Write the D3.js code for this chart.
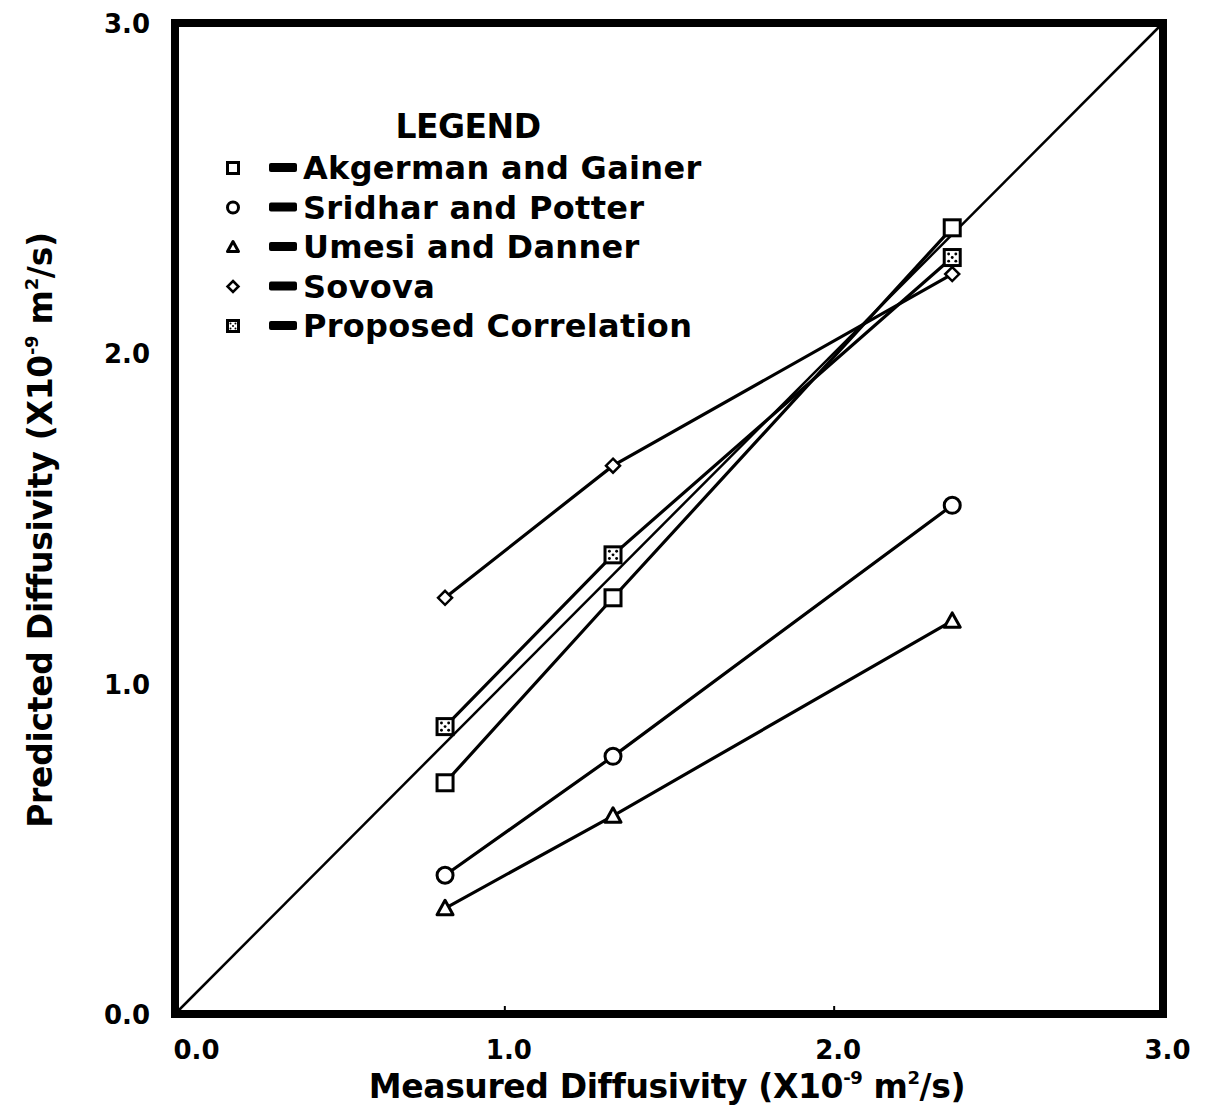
<!DOCTYPE html>
<html>
<head>
<meta charset="utf-8">
<script src="https://cdnjs.cloudflare.com/ajax/libs/d3/7.8.5/d3.min.js"></script>
<style>
  body { margin: 0; background: #fff; }
  text { font-family: "DejaVu Sans", sans-serif; font-weight: bold; fill: #000; }
</style>
</head>
<body>
<script>
// measured diffusivity at the three conditions
var measured = [0.82, 1.33, 2.36];

var akgerman = [0.70, 1.26, 2.38];
var sridhar = [0.42, 0.78, 1.54];
var umesi = [0.32, 0.60, 1.19];
var sovova = [1.26, 1.66, 2.24];
var proposed = [0.87, 1.39, 2.29];

var seriesNames = ["Akgerman and Gainer", "Sridhar and Potter", "Umesi and Danner", "Sovova", "Proposed Correlation"];
var seriesSymbols = ["square", "circle", "triangle", "diamond", "dotsquare"];
var tickValues = [0, 1, 2, 3];

var width = 1207, height = 1118;
var margins = { top: 23, bottom: 104, left: 175, right: 44 };

var svg = d3.select("body").append("svg")
  .attr("width", width)
  .attr("height", height);

var x = d3.scaleLinear().domain([0, 3]).range([margins.left, width - margins.right]);
var y = d3.scaleLinear().domain([0, 3]).range([height - margins.bottom, margins.top]);

// axes: labels only, the frame is drawn as a heavy box
var xAxis = svg.append("g")
  .attr("transform", "translate(0," + y(0) + ")")
  .call(d3.axisBottom(x).tickValues(tickValues).tickFormat(d3.format(".1f")).tickSize(-8).tickPadding(45));
xAxis.select(".domain").remove();
xAxis.selectAll("text").attr("font-size", 26).attr("dx", 4).attr("dy", 0);
xAxis.selectAll("text").filter(d => d === 0).attr("text-anchor", "start").attr("dx", -2);
xAxis.selectAll("line").attr("stroke-width", 2);

var yAxis = svg.append("g")
  .attr("transform", "translate(" + x(0) + ",0)")
  .call(d3.axisLeft(y).tickValues(tickValues).tickFormat(d3.format(".1f")).tickSize(0).tickPadding(25));
yAxis.select(".domain").remove();
yAxis.selectAll("text").attr("font-size", 26).attr("dy", "0.36em");

svg.append("rect")
  .attr("x", x(0)).attr("y", y(3))
  .attr("width", x(3) - x(0)).attr("height", y(0) - y(3))
  .attr("fill", "none").attr("stroke", "#000").attr("stroke-width", 8);

// 1:1 line
svg.append("line")
  .attr("x1", x(0)).attr("y1", y(0))
  .attr("x2", x(3)).attr("y2", y(3))
  .attr("stroke", "#000").attr("stroke-width", 2.5);

var allSeries = [akgerman, sridhar, umesi, sovova, proposed];

var line = d3.line()
  .x((d, i) => x(measured[i]))
  .y(d => y(d));

allSeries.forEach(function (s) {
  svg.append("path")
    .datum(s)
    .attr("d", line)
    .attr("fill", "none")
    .attr("stroke", "#000")
    .attr("stroke-width", 3.2);
});

function drawSymbol(g, kind, size) {
  var h = size / 2;
  if (kind === "square" || kind === "dotsquare") {
    g.append("rect").attr("x", -h).attr("y", -h).attr("width", size).attr("height", size)
      .attr("fill", "#fff").attr("stroke", "#000").attr("stroke-width", 3);
    if (kind === "dotsquare") {
      [[-1, -1], [1, -1], [-1, 1], [1, 1], [0, 0]].forEach(function (p) {
        g.append("circle").attr("cx", p[0] * h * 0.45).attr("cy", p[1] * h * 0.45)
          .attr("r", size * 0.09).attr("fill", "#000");
      });
    }
  } else if (kind === "circle") {
    g.append("circle").attr("r", h).attr("fill", "#fff").attr("stroke", "#000").attr("stroke-width", 3);
  } else if (kind === "triangle") {
    g.append("path").attr("d", "M0," + (-h) + "L" + h + "," + (h * 0.8) + "L" + (-h) + "," + (h * 0.8) + "Z")
      .attr("fill", "#fff").attr("stroke", "#000").attr("stroke-width", 3).attr("stroke-linejoin", "round");
  } else if (kind === "diamond") {
    g.append("path").attr("d", "M0," + (-h) + "L" + h + ",0L0," + h + "L" + (-h) + ",0Z")
      .attr("fill", "#fff").attr("stroke", "#000").attr("stroke-width", 2.5);
  }
}

allSeries.forEach(function (s, k) {
  var sym = svg.append("g").selectAll("g")
    .data(s)
    .enter().append("g")
    .attr("transform", (d, i) => "translate(" + x(measured[i]) + "," + y(d) + ")");
  sym.each(function () {
    drawSymbol(d3.select(this), seriesSymbols[k], seriesSymbols[k] === "diamond" ? 14 : 16);
  });
});

// legend
var legend = svg.append("g").attr("transform", "translate(233,0)");
legend.append("text")
  .attr("x", 235).attr("y", 138)
  .attr("text-anchor", "middle")
  .attr("font-size", 33)
  .attr("letter-spacing", -0.5)
  .text("LEGEND");

seriesNames.forEach(function (name, k) {
  var cy = 168 + k * 39.5;
  var row = legend.append("g").attr("transform", "translate(0," + cy + ")");
  drawSymbol(row.append("g"), seriesSymbols[k], 11);
  row.append("rect").attr("x", 36).attr("y", -5).attr("width", 28).attr("height", 9).attr("rx", 2).attr("fill", "#000");
  row.append("text")
    .attr("x", 70).attr("y", 11)
    .attr("font-size", 32)
    .attr("letter-spacing", 0.3)
    .text(name);
});

// axis titles
var xt = svg.append("text")
  .attr("x", (x(0) + x(3)) / 2 - 2)
  .attr("y", 1098)
  .attr("text-anchor", "middle")
  .attr("font-size", 33)
  .attr("letter-spacing", -0.4);
xt.append("tspan").text("Measured Diffusivity (X10");
xt.append("tspan").attr("font-size", 18).attr("dy", -14).text("-9");
xt.append("tspan").attr("dy", 14).text(" m");
xt.append("tspan").attr("font-size", 18).attr("dy", -14).text("2");
xt.append("tspan").attr("dy", 14).text("/s)");

var yt = svg.append("text")
  .attr("transform", "translate(52," + 530 + ") rotate(-90)")
  .attr("text-anchor", "middle")
  .attr("font-size", 33)
  .attr("letter-spacing", -0.3);
yt.append("tspan").text("Predicted Diffusivity (X10");
yt.append("tspan").attr("font-size", 18).attr("dy", -14).text("-9");
yt.append("tspan").attr("dy", 14).text(" m");
yt.append("tspan").attr("font-size", 18).attr("dy", -14).text("2");
yt.append("tspan").attr("dy", 14).text("/s)");
</script>
</body>
</html>
